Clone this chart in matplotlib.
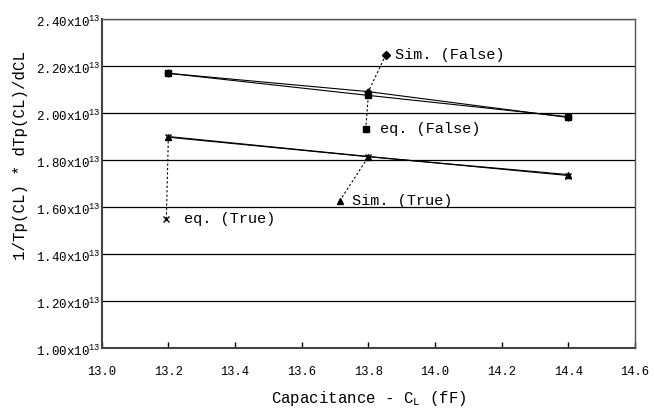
import matplotlib.pyplot as plt
import numpy as np
from matplotlib.ticker import FuncFormatter
import matplotlib.transforms as mtransforms

plt.rcParams['font.family'] = ['Liberation Mono', 'DejaVu Sans Mono']
plt.rcParams['mathtext.fontset'] = 'custom'
plt.rcParams['mathtext.rm'] = 'Liberation Mono'
plt.rcParams['mathtext.it'] = 'Liberation Mono:italic'
plt.rcParams['mathtext.bf'] = 'Liberation Mono:bold'

# Data (values in units of 1e13)
cap = [13.2, 13.8, 14.4]
sim_false = np.array([2.169, 2.091, 1.981]) * 1e13
eq_false = np.array([2.169, 2.075, 1.984]) * 1e13
sim_true = np.array([1.897, 1.814, 1.738]) * 1e13
eq_true = np.array([1.900, 1.815, 1.734]) * 1e13

x_ticks = np.arange(13.0, 14.61, 0.2)
y_ticks = np.arange(1.0, 2.41, 0.2) * 1e13

fig = plt.figure(figsize=(6.54, 4.12), dpi=100)
ax = fig.add_axes([0.1555, 0.1553, 0.8155, 0.7985])

# series lines
ax.plot(cap, sim_false, color='black', lw=0.8, marker='D', ms=3.5)
ax.plot(cap, eq_false, color='black', lw=0.8, marker='s', ms=5)
ax.plot(cap, sim_true, color='black', lw=0.8, marker='^', ms=5)
ax.plot(cap, eq_true, color='black', lw=0.8, marker='x', ms=5, mew=1)

# callout labels: text, marker, label position, point it refers to, text offset
callouts = [
    ('Sim. (False)', 'D', (13.852, 2.247e13), (cap[1], sim_false[1]), 7),
    ('eq. (False)', 's', (13.792, 1.931e13), (cap[1], eq_false[1]), 10),
    ('Sim. (True)', '^', (13.714, 1.626e13), (cap[1], sim_true[1]), 9),
    ('eq. (True)', 'x', (13.194, 1.549e13), (cap[0], eq_true[0]), 13),
]
for text, mk, pos, target, off in callouts:
    ax.plot([pos[0], target[0]], [pos[1], target[1]], color='black',
            lw=0.8, ls=(0, (2, 2)))
    ax.plot(pos[0], pos[1], marker=mk, color='black', ms=4, mew=1)
    ax.annotate(text, xy=pos, xytext=(off, 0), textcoords='offset points',
                ha='left', va='center', fontsize=11)

# axes
ax.set_xlim(13.0, 14.6)
ax.set_ylim(1.0e13, 2.4e13)
ax.set_xticks(x_ticks)
ax.xaxis.set_major_formatter(FuncFormatter(lambda v, p: f'{v:.1f}'))
ax.set_yticks(y_ticks)
ax.yaxis.set_major_formatter(
    FuncFormatter(lambda v, p: r'$\mathrm{%.2fx10^{13}}$' % (v / 1e13)))
ax.yaxis.grid(True, color='black', lw=0.9)
ax.set_axisbelow(True)

ax.tick_params(axis='x', direction='in', length=4, width=1, pad=13,
               labelsize=8.7)
ax.tick_params(axis='y', length=0, pad=1, labelsize=9)
shift = mtransforms.ScaledTranslation(0, -2 / 100, fig.dpi_scale_trans)
for lbl in ax.get_yticklabels():
    lbl.set_transform(lbl.get_transform() + shift)

for side in ['left', 'bottom']:
    ax.spines[side].set_linewidth(1.5)
    ax.spines[side].set_color('#444444')
for side in ['top', 'right']:
    ax.spines[side].set_linewidth(1)
    ax.spines[side].set_color('#555555')

ax.set_xlabel(r'Capacitance - C$\mathrm{_L}$ (fF)', fontsize=11.3, labelpad=8)
ax.set_ylabel('1/Tp(CL) * dTp(CL)/dCL', fontsize=11.3)
ax.yaxis.label.set_va('center')
ax.yaxis.set_label_coords(-0.153, 0.584)

fig.savefig('out.png', dpi=100)
